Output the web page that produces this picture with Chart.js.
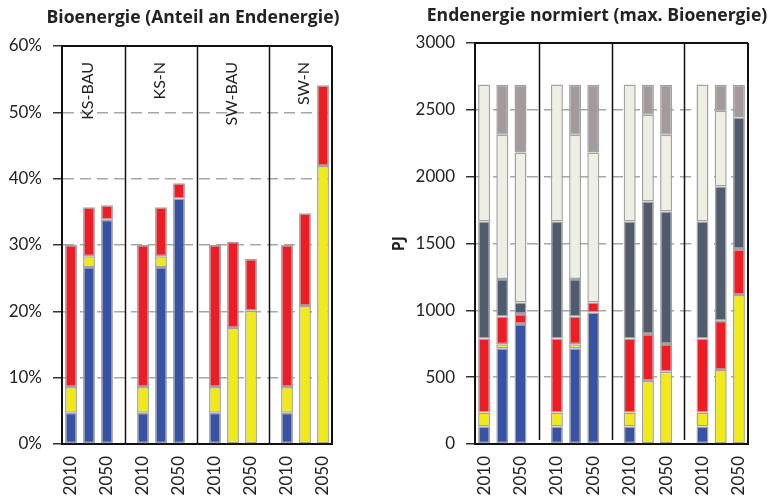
<!DOCTYPE html>
<html>
<head>
<meta charset="utf-8">
<script src="https://cdn.jsdelivr.net/npm/chart.js@4"></script>
<style>
  body { margin: 0; background: #fff; }
  .box { position: absolute; top: 0; height: 501px; }
  #boxLeft { left: 0; width: 390px; }
  #boxRight { left: 390px; width: 388px; }
</style>
</head>
<body>
<div class="box" id="boxLeft"><canvas id="chartLeft" width="390" height="501"></canvas></div>
<div class="box" id="boxRight"><canvas id="chartRight" width="388" height="501"></canvas></div>
<script>
// ── Daten ──────────────────────────────────────────────────
const years = ['2010', '', '2050', '', '2010', '', '2050', '', '2010', '', '2050', '', '2010', '', '2050'];
const scenarios = ['KS-BAU', 'KS-N', 'SW-BAU', 'SW-N'];
const gapSlots = [3, 7, 11];

// Anteil Bioenergie an Endenergie (%)
const shareBlue   = [4.7, 26.7, 33.8, null, 4.7, 26.7, 37.0, null, 4.7, null, null, null, 4.7, null, null];
const shareYellow = [3.9, 1.6, null, null, 3.9, 1.6, null, null, 3.9, 17.5, 20.1, null, 3.9, 20.8, 41.9];
const shareRed    = [21.4, 7.4, 2.2, null, 21.4, 7.4, 2.3, null, 21.4, 13.0, 7.8, null, 21.4, 14.0, 12.2];
const shareTicks  = [0, 60, 10];

// Endenergie normiert (PJ)
const pjBlue   = [130, 716, 898, null, 130, 716, 983, null, 130, null, null, null, 130, null, null];
const pjYellow = [105, 30, null, null, 105, 30, null, null, 105, 472, 541, null, 105, 554, 1115];
const pjRed    = [555, 207, 75, null, 555, 207, 75, null, 555, 351, 208, null, 555, 369, 343];
const pjSlate  = [875, 282, 85, null, 875, 282, null, null, 875, 991, 990, null, 875, 1003, 985];
const pjBeige  = [1025, 1078, 1123, null, 1025, 1078, 1123, null, 1025, 649, 574, null, 1025, 567, null];
const pjGray   = [null, 375, 507, null, null, 375, 507, null, null, 225, 375, null, null, 195, 245];
const pjTicks  = [0, 3000, 500];

// ── Stil ───────────────────────────────────────────────────
const FONT = 'Lato, "Liberation Sans", sans-serif';
const TITLE_FONT = '"Open Sans", Lato, sans-serif';
const C = {
    blue: '#3953A4', yellow: '#F2EA17', red: '#EE1C25',
    slate: '#505B6E', beige: '#EEEEE2', gray: '#A29A9B',
    edge: '#A3A3A3', grid: '#A6A6A6', text: '#222'
};

function ds(data, color) {
    return {
        data, backgroundColor: color, borderColor: C.edge,
        borderWidth: 1.5, borderSkipped: false,
        barPercentage: 0.66, categoryPercentage: 1
    };
}

// Rahmen, Trennlinien, Titel, Szenarien
function framePlugin(cfg) {
    return {
        id: 'frame',
        afterDatasetsDraw(chart) {
            const { ctx, chartArea: a, scales: { x } } = chart;
            ctx.save();
            ctx.strokeStyle = '#111';
            ctx.lineWidth = 2;
            ctx.beginPath();
            ctx.moveTo(a.left, a.top); ctx.lineTo(a.right, a.top);
            ctx.moveTo(a.right, a.top); ctx.lineTo(a.right, a.bottom);
            ctx.stroke();
            ctx.lineWidth = 1.5;
            gapSlots.forEach(i => {
                const px = Math.round(x.getPixelForValue(i)) + 0.5;
                ctx.beginPath();
                ctx.moveTo(px, a.top);
                ctx.lineTo(px, a.bottom - cfg.sepGap);
                ctx.stroke();
            });
            ctx.fillStyle = C.text;
            ctx.font = 'bold ' + cfg.titleSize + 'px ' + TITLE_FONT;
            ctx.textAlign = 'center';
            ctx.textBaseline = 'middle';
            ctx.fillText(cfg.title, cfg.titleX, cfg.titleY);
            if (cfg.scenarios) {
                ctx.font = '16px ' + FONT;
                ctx.textAlign = 'right';
                scenarios.forEach((s, g) => {
                    const px = x.getPixelForValue(g * 4 + 1) - 1;
                    ctx.save();
                    ctx.translate(px, a.top + 16);
                    ctx.rotate(-Math.PI / 2);
                    ctx.fillText(s, 0, 0);
                    ctx.restore();
                });
            }
            ctx.restore();
        }
    };
}

function makeOptions(ticks, yWidth, pad, fmt, yTitle) {
    return {
        responsive: false,
        animation: false,
        layout: { padding: pad },
        plugins: { legend: { display: false }, tooltip: { enabled: false } },
        scales: {
            x: {
                stacked: true,
                grid: { display: false },
                border: { color: '#111', width: 2 },
                ticks: {
                    autoSkip: false, minRotation: 90, maxRotation: 90, padding: 4,
                    color: C.text, font: { family: FONT, size: 17 }
                },
                afterFit: s => { s.height = 57; }
            },
            y: {
                stacked: true,
                min: ticks[0], max: ticks[1],
                grid: { color: C.grid, lineWidth: 1.5, tickLength: 9,
                        tickColor: '#333', tickBorderDash: [] },
                border: { color: '#111', width: 2, dash: [11, 6] },
                ticks: { stepSize: ticks[2], padding: 11, color: C.text,
                         font: { family: FONT, size: 17 }, callback: fmt },
                title: yTitle,
                afterFit: s => { s.width = yWidth; }
            }
        }
    };
}

new Chart(document.getElementById('chartLeft'), {
    type: 'bar',
    data: {
        labels: years,
        datasets: [ds(shareBlue, C.blue), ds(shareYellow, C.yellow), ds(shareRed, C.red)]
    },
    options: makeOptions(shareTicks, 62, { left: 0, right: 58, top: 46, bottom: 0 },
        v => v + '%', { display: false }),
    plugins: [framePlugin({ title: 'Bioenergie (Anteil an Endenergie)', titleX: 193, titleY: 18,
                            titleSize: 17.6, sepGap: 0, scenarios: true })]
});

new Chart(document.getElementById('chartRight'), {
    type: 'bar',
    data: {
        labels: years,
        datasets: [ds(pjBlue, C.blue), ds(pjYellow, C.yellow), ds(pjRed, C.red),
                   ds(pjSlate, C.slate), ds(pjBeige, C.beige), ds(pjGray, C.gray)]
    },
    options: makeOptions(pjTicks, 85, { left: 0, right: 30, top: 43, bottom: 0 },
        v => v, { display: true, text: 'PJ', color: C.text, padding: 0,
                  font: { family: TITLE_FONT, size: 16, weight: 'bold' } }),
    plugins: [framePlugin({ title: 'Endenergie normiert (max. Bioenergie)', titleX: 207, titleY: 16,
                            titleSize: 17.6, sepGap: 4, scenarios: false })]
});
</script>
</body>
</html>
